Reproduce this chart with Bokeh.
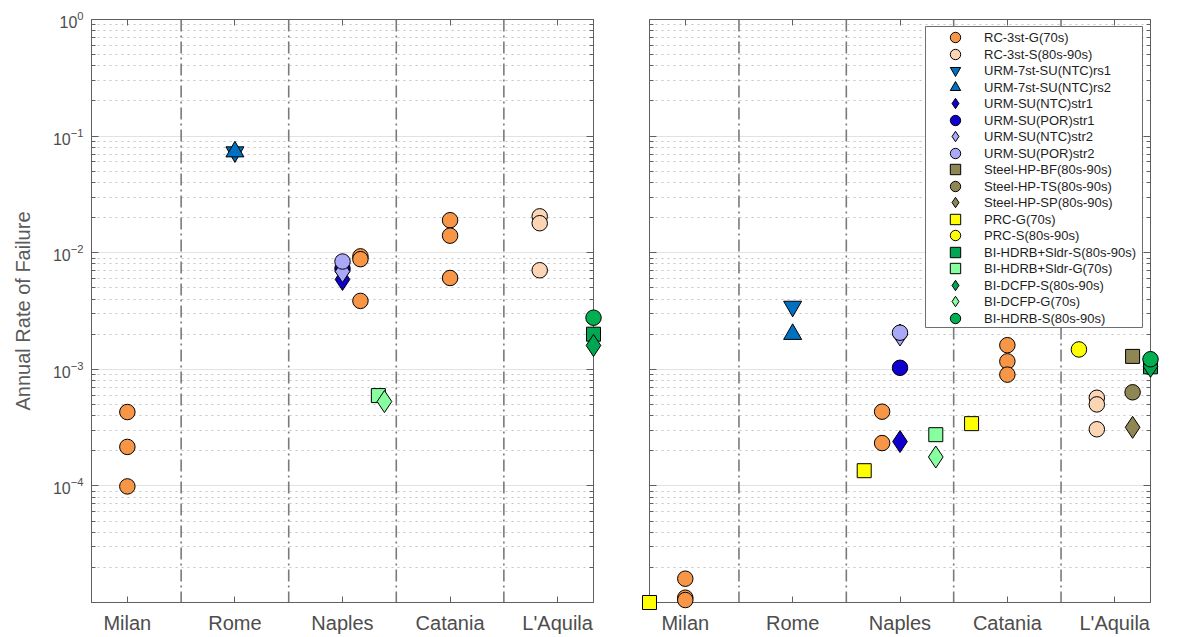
from bokeh.plotting import figure
from bokeh.layouts import row
from bokeh.models import (Range1d, FixedTicker, LinearAxis, LogAxis, Span,
                          Legend, LegendItem, BoxAnnotation, CustomJSTickFormatter)
from bokeh.embed import file_html
from bokeh.resources import INLINE

# ---------------- data ----------------
categories = ["Milan", "Rome", "Naples", "Catania", "L'Aquila"]
y_tick_values = [1e-4, 1e-3, 1e-2, 1e-1, 1.0]

series_names = [
    "RC-3st-G(70s)", "RC-3st-S(80s-90s)",
    "URM-7st-SU(NTC)rs1", "URM-7st-SU(NTC)rs2",
    "URM-SU(NTC)str1", "URM-SU(POR)str1", "URM-SU(NTC)str2", "URM-SU(POR)str2",
    "Steel-HP-BF(80s-90s)", "Steel-HP-TS(80s-90s)", "Steel-HP-SP(80s-90s)",
    "PRC-G(70s)", "PRC-S(80s-90s)",
    "BI-HDRB+Sldr-S(80s-90s)", "BI-HDRB+Sldr-G(70s)",
    "BI-DCFP-S(80s-90s)", "BI-DCFP-G(70s)", "BI-HDRB-S(80s-90s)",
]

# Left panel
L_RC3G_city = ["Milan", "Milan", "Milan", "Naples", "Naples", "Naples", "Catania", "Catania", "Catania"]
L_RC3G_val = [4.3e-4, 2.16e-4, 9.9e-5, 9.3e-3, 8.8e-3, 3.86e-3, 1.9e-2, 1.4e-2, 6.07e-3]
L_RC3S_city = ["L'Aquila", "L'Aquila", "L'Aquila"]
L_RC3S_val = [2.05e-2, 1.79e-2, 7.07e-3]
L_RS1_city = ["Rome"]
L_RS1_val = [7.3e-2]
L_RS2_city = ["Rome"]
L_RS2_val = [7.35e-2]
L_NTC1_city = ["Naples"]
L_NTC1_val = [5.9e-3]
L_POR1_city = ["Naples"]
L_POR1_val = [7.3e-3]
L_NTC2_city = ["Naples"]
L_NTC2_val = [6.9e-3]
L_POR2_city = ["Naples"]
L_POR2_val = [8.4e-3]
L_SLDRS_city = ["L'Aquila"]
L_SLDRS_val = [2.0e-3]
L_SLDRG_city = ["Naples"]
L_SLDRG_val = [5.95e-4]
L_DCFPS_city = ["L'Aquila"]
L_DCFPS_val = [1.6e-3]
L_DCFPG_city = ["Naples"]
L_DCFPG_val = [5.29e-4]
L_HDRBS_city = ["L'Aquila"]
L_HDRBS_val = [2.77e-3]

# Right panel
R_RC3G_city = ["Milan", "Milan", "Milan", "Naples", "Naples", "Catania", "Catania", "Catania"]
R_RC3G_val = [1.6e-5, 1.1e-5, 1.05e-5, 4.33e-4, 2.33e-4, 1.61e-3, 1.17e-3, 9.0e-4]
R_RC3S_city = ["L'Aquila", "L'Aquila", "L'Aquila"]
R_RC3S_val = [5.7e-4, 5.0e-4, 3.06e-4]
R_RS1_city = ["Rome"]
R_RS1_val = [3.46e-3]
R_RS2_city = ["Rome"]
R_RS2_val = [2.0e-3]
R_NTC1_city = ["Naples"]
R_NTC1_val = [2.4e-4]
R_POR1_city = ["Naples"]
R_POR1_val = [1.03e-3]
R_NTC2_city = ["Naples"]
R_NTC2_val = [1.97e-3]
R_POR2_city = ["Naples"]
R_POR2_val = [2.06e-3]
R_BF_city = ["L'Aquila"]
R_BF_val = [1.29e-3]
R_TS_city = ["L'Aquila"]
R_TS_val = [6.35e-4]
R_SP_city = ["L'Aquila"]
R_SP_val = [3.18e-4]
R_PRCG_city = ["Milan", "Naples", "Catania"]
R_PRCG_val = [1.0e-5, 1.35e-4, 3.42e-4]
R_PRCS_city = ["L'Aquila"]
R_PRCS_val = [1.48e-3]
R_SLDRS_city = ["L'Aquila"]
R_SLDRS_val = [1.05e-3]
R_SLDRG_city = ["Naples"]
R_SLDRG_val = [2.75e-4]
R_DCFPS_city = ["L'Aquila"]
R_DCFPS_val = [1.06e-3]
R_DCFPG_city = ["Naples"]
R_DCFPG_val = [1.77e-4]
R_HDRBS_city = ["L'Aquila"]
R_HDRBS_val = [1.22e-3]

left_data = {
    "RC-3st-G(70s)": (L_RC3G_city, L_RC3G_val),
    "RC-3st-S(80s-90s)": (L_RC3S_city, L_RC3S_val),
    "URM-7st-SU(NTC)rs1": (L_RS1_city, L_RS1_val),
    "URM-7st-SU(NTC)rs2": (L_RS2_city, L_RS2_val),
    "URM-SU(NTC)str1": (L_NTC1_city, L_NTC1_val),
    "URM-SU(POR)str1": (L_POR1_city, L_POR1_val),
    "URM-SU(NTC)str2": (L_NTC2_city, L_NTC2_val),
    "URM-SU(POR)str2": (L_POR2_city, L_POR2_val),
    "BI-HDRB+Sldr-S(80s-90s)": (L_SLDRS_city, L_SLDRS_val),
    "BI-HDRB+Sldr-G(70s)": (L_SLDRG_city, L_SLDRG_val),
    "BI-DCFP-S(80s-90s)": (L_DCFPS_city, L_DCFPS_val),
    "BI-DCFP-G(70s)": (L_DCFPG_city, L_DCFPG_val),
    "BI-HDRB-S(80s-90s)": (L_HDRBS_city, L_HDRBS_val),
}
right_data = {
    "RC-3st-G(70s)": (R_RC3G_city, R_RC3G_val),
    "RC-3st-S(80s-90s)": (R_RC3S_city, R_RC3S_val),
    "URM-7st-SU(NTC)rs1": (R_RS1_city, R_RS1_val),
    "URM-7st-SU(NTC)rs2": (R_RS2_city, R_RS2_val),
    "URM-SU(NTC)str1": (R_NTC1_city, R_NTC1_val),
    "URM-SU(POR)str1": (R_POR1_city, R_POR1_val),
    "URM-SU(NTC)str2": (R_NTC2_city, R_NTC2_val),
    "URM-SU(POR)str2": (R_POR2_city, R_POR2_val),
    "Steel-HP-BF(80s-90s)": (R_BF_city, R_BF_val),
    "Steel-HP-TS(80s-90s)": (R_TS_city, R_TS_val),
    "Steel-HP-SP(80s-90s)": (R_SP_city, R_SP_val),
    "PRC-G(70s)": (R_PRCG_city, R_PRCG_val),
    "PRC-S(80s-90s)": (R_PRCS_city, R_PRCS_val),
    "BI-HDRB+Sldr-S(80s-90s)": (R_SLDRS_city, R_SLDRS_val),
    "BI-HDRB+Sldr-G(70s)": (R_SLDRG_city, R_SLDRG_val),
    "BI-DCFP-S(80s-90s)": (R_DCFPS_city, R_DCFPS_val),
    "BI-DCFP-G(70s)": (R_DCFPG_city, R_DCFPG_val),
    "BI-HDRB-S(80s-90s)": (R_HDRBS_city, R_HDRBS_val),
}

# ---------------- styles / positions ----------------
STYLE = {
    "RC-3st-G(70s)": ("circle", "#f79646"),
    "RC-3st-S(80s-90s)": ("circle", "#fcd5b4"),
    "URM-7st-SU(NTC)rs1": ("inverted_triangle", "#0070c0"),
    "URM-7st-SU(NTC)rs2": ("triangle", "#0070c0"),
    "URM-SU(NTC)str1": ("diamond", "#1000d0"),
    "URM-SU(POR)str1": ("circle", "#1000d0"),
    "URM-SU(NTC)str2": ("diamond", "#a9a9f7"),
    "URM-SU(POR)str2": ("circle", "#a9a9f7"),
    "Steel-HP-BF(80s-90s)": ("square", "#8f8753"),
    "Steel-HP-TS(80s-90s)": ("circle", "#8f8753"),
    "Steel-HP-SP(80s-90s)": ("diamond", "#8f8753"),
    "PRC-G(70s)": ("square", "#ffff00"),
    "PRC-S(80s-90s)": ("circle", "#ffff00"),
    "BI-HDRB+Sldr-S(80s-90s)": ("square", "#00a651"),
    "BI-HDRB+Sldr-G(70s)": ("square", "#86ff9e"),
    "BI-DCFP-S(80s-90s)": ("diamond", "#00a651"),
    "BI-DCFP-G(70s)": ("diamond", "#86ff9e"),
    "BI-HDRB-S(80s-90s)": ("circle", "#00b050"),
}
SIZE = {"circle": 15.5, "square": 14, "diamond": 22, "triangle": 18, "inverted_triangle": 18}

S = 1.0 / 6.0
LEFT_OFFSET = {
    ("RC-3st-G(70s)", "Naples"): S,
    ("RC-3st-S(80s-90s)", "L'Aquila"): -S,
    ("BI-HDRB+Sldr-G(70s)", "Naples"): 2 * S,
    ("BI-DCFP-G(70s)", "Naples"): 0.39,
    ("BI-HDRB+Sldr-S(80s-90s)", "L'Aquila"): 2 * S,
    ("BI-DCFP-S(80s-90s)", "L'Aquila"): 2 * S,
    ("BI-HDRB-S(80s-90s)", "L'Aquila"): 2 * S,
}
RIGHT_OFFSET = {
    ("RC-3st-G(70s)", "Naples"): -S,
    ("RC-3st-S(80s-90s)", "L'Aquila"): -S,
    ("PRC-G(70s)", "Milan"): -2 * S,
    ("PRC-G(70s)", "Naples"): -2 * S,
    ("PRC-G(70s)", "Catania"): -2 * S,
    ("PRC-S(80s-90s)", "L'Aquila"): -2 * S,
    ("Steel-HP-BF(80s-90s)", "L'Aquila"): S,
    ("Steel-HP-TS(80s-90s)", "L'Aquila"): S,
    ("Steel-HP-SP(80s-90s)", "L'Aquila"): S,
    ("BI-HDRB+Sldr-G(70s)", "Naples"): 2 * S,
    ("BI-DCFP-G(70s)", "Naples"): 2 * S,
    ("BI-HDRB+Sldr-S(80s-90s)", "L'Aquila"): 2 * S,
    ("BI-DCFP-S(80s-90s)", "L'Aquila"): 2 * S,
    ("BI-HDRB-S(80s-90s)", "L'Aquila"): 2 * S,
}

FONT = "Liberation Sans"
AX_COL = "#606060"
TXT_COL = "#4d4d4d"
FIG_H = 636
TOP_B = 19
FRAME_H = 584
PAGE_MARGIN = 0
FRAME_BOTTOM_PAGE = PAGE_MARGIN + TOP_B + FRAME_H

x_ticks = list(range(1, len(categories) + 1))
y_minor = [m * 10.0 ** k for k in range(-5, 0) for m in range(2, 10)]


def hide_labels(ax):
    ax.formatter = CustomJSTickFormatter(code="return ''")
    ax.major_label_text_color = None
    ax.major_label_text_font_size = "8px"
    ax.major_label_standoff = 0


def make_fig(width, mbl, mbr):
    p = figure(width=width, height=FIG_H, x_range=Range1d(2 / 3, 16 / 3),
               y_range=Range1d(1e-5, 1), y_axis_type="log",
               output_backend="svg", toolbar_location=None,
               min_border_left=mbl, min_border_right=mbr,
               min_border_top=TOP_B, min_border_bottom=FIG_H - TOP_B - FRAME_H)
    p.outline_line_color = AX_COL
    p.background_fill_color = "white"
    p.border_fill_color = "white"

    xt = FixedTicker(ticks=x_ticks)
    yt = FixedTicker(ticks=y_tick_values, minor_ticks=y_minor)
    p.xaxis.ticker = xt
    p.xaxis.major_label_overrides = {i + 1: c for i, c in enumerate(categories)}
    p.yaxis.ticker = yt
    p.ygrid.ticker = yt
    p.xgrid.visible = False

    p.ygrid.grid_line_color = "#e2e2e2"
    p.ygrid.grid_line_width = 1
    p.ygrid.minor_grid_line_color = "#c4c4c4"
    p.ygrid.minor_grid_line_dash = "2 4"
    p.ygrid.minor_grid_line_width = 1

    for ax in (p.xaxis, p.yaxis):
        ax.axis_line_color = AX_COL
        ax.major_tick_line_color = AX_COL
        ax.minor_tick_line_color = AX_COL
        ax.major_tick_out = 0
        ax.minor_tick_out = 0
    p.xaxis.major_tick_in = 6
    p.xaxis.minor_tick_in = 0
    p.yaxis.major_tick_in = 7
    p.yaxis.minor_tick_in = 4
    p.xaxis.major_label_text_font = FONT
    p.xaxis.major_label_text_font_size = "20px"
    p.xaxis.major_label_text_color = TXT_COL
    p.xaxis.major_label_standoff = 9

    top = LinearAxis(ticker=xt, major_tick_in=6, major_tick_out=0,
                     minor_tick_in=0, minor_tick_out=0,
                     axis_line_color=AX_COL, major_tick_line_color=AX_COL)
    hide_labels(top)
    p.add_layout(top, "above")
    rgt = LogAxis(ticker=yt, major_tick_in=7, major_tick_out=0,
                  minor_tick_in=4, minor_tick_out=0,
                  axis_line_color=AX_COL, major_tick_line_color=AX_COL,
                  minor_tick_line_color=AX_COL)
    hide_labels(rgt)
    p.add_layout(rgt, "right")

    for k in range(len(categories) - 1):
        p.add_layout(Span(location=k + 1.5, dimension="height", line_color="#7a7a7a",
                          line_width=1.6, line_dash="12 4 2 4", level="underlay"))
    return p


def draw(p, data, offsets):
    rends = {}
    for name in series_names:
        if name not in data:
            continue
        cities, vals = data[name]
        xs = [categories.index(c) + 1 + offsets.get((name, c), 0.0) for c in cities]
        marker, color = STYLE[name]
        r = p.scatter(x=xs, y=vals, marker=marker, size=SIZE[marker],
                      fill_color=color, line_color="black", line_width=1,
                      level="annotation")
        rends[name] = r
    return rends


P1_W, P1_L, P1_R = 620, 91, 27
P2_W, P2_L, P2_R = 550, 29, 20

p1 = make_fig(P1_W, P1_L, P1_R)
p1.yaxis[0].axis_label = "Annual Rate of Failure"
p1.yaxis[0].axis_label_text_font = FONT
p1.yaxis[0].axis_label_text_font_size = "20px"
p1.yaxis[0].axis_label_text_font_style = "normal"
p1.yaxis[0].axis_label_text_color = "#5a5a5a"
p1.yaxis[0].axis_label_standoff = 16
p1.yaxis[0].major_label_text_font = FONT
p1.yaxis[0].major_label_text_font_size = "16px"
p1.yaxis[0].major_label_text_color = TXT_COL
p1.yaxis[0].major_label_standoff = 8
draw(p1, left_data, LEFT_OFFSET)

p2 = make_fig(P2_W, P2_L, P2_R)
hide_labels(p2.yaxis[0])
rr = draw(p2, right_data, RIGHT_OFFSET)

# legend box (page pixel layout converted to frame-relative screen units)
frame2_left_page = PAGE_MARGIN + P1_W + P2_L
BOX_L, BOX_R, BOX_T, BOX_B = 925, 1142, 27, 328
LEG_LEFT = BOX_L - frame2_left_page
LEG_RIGHT = BOX_R - frame2_left_page
LEG_TOP = FRAME_BOTTOM_PAGE - BOX_T
LEG_BOTTOM = FRAME_BOTTOM_PAGE - BOX_B
ROW = 16.43
GLYPH_H = 26
box = BoxAnnotation(left=LEG_LEFT, right=LEG_RIGHT, top=LEG_TOP, bottom=LEG_BOTTOM,
                    left_units="screen", right_units="screen",
                    top_units="screen", bottom_units="screen",
                    fill_color="white", fill_alpha=1.0,
                    line_color="#6e6e6e", line_width=1, line_alpha=1.0)
p2.add_layout(box)

first_center = LEG_TOP - 11.3
for parity in (0, 1):
    names = series_names[parity::2]
    n = len(names)
    stride = 2 * ROW
    spacing = int(round(stride - GLYPH_H))
    height = n * GLYPH_H + (n - 1) * spacing
    top_y = first_center - parity * ROW + GLYPH_H / 2
    lg = Legend(items=[LegendItem(label=nm, renderers=[rr[nm]]) for nm in names],
                location=(LEG_LEFT + 1, int(round(top_y - height))),
                padding=0, margin=0, spacing=spacing,
                glyph_height=GLYPH_H, glyph_width=58, label_height=16,
                label_standoff=0, label_text_font=FONT, label_text_font_size="13px",
                label_text_color="#1e1e1e", border_line_color=None,
                background_fill_alpha=0.0)
    p2.add_layout(lg)

layout = row(p1, p2)
open("out.html", "w").write(file_html(layout, INLINE))
